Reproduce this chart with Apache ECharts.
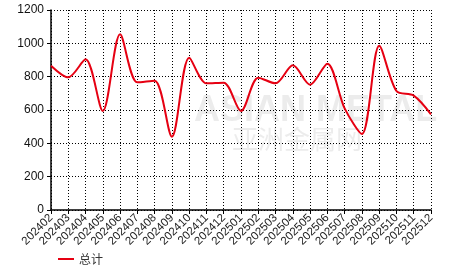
<!DOCTYPE html>
<html><head><meta charset="utf-8">
<script src="https://cdn.jsdelivr.net/npm/echarts@6/dist/echarts.min.js"></script>
<style>html,body{margin:0;padding:0;background:#fff}#c{width:466px;height:272px}</style>
</head><body><div id="c"></div>
<script>
var categories = ['202402','202403','202404','202405','202406','202407','202408','202409','202410','202411','202412','202501','202502','202503','202504','202505','202506','202507','202508','202509','202510','202511','202512'];
var totalValues = [866,796,904,594,1054,766,776,440,914,760,764,594,794,760,868,752,878,610,456,986,714,686,574];
var yTicks = [0,200,400,600,800,1000,1200];
var seriesName = '总计';

var chart = echarts.init(document.getElementById('c'));
chart.setOption({
  animation: false,
  backgroundColor: '#fff',
  grid: {left: 51, right: 35, top: 10, bottom: 62},
  graphic: [
    {type: 'text', left: 194, top: 93, z: 0, style: {text: 'ASIAN METAL', font: 'bold 36px "Liberation Sans", Arial, sans-serif', fill: 'rgba(200,200,200,0.35)'}},
    {type: 'text', left: 232, top: 126, z: 0, style: {text: '亚洲金属网', font: '26px "Noto Sans CJK SC", sans-serif', fill: 'rgba(200,200,200,0.35)'}}
  ],
  legend: {
    left: 53, top: 248, itemWidth: 16, itemHeight: 2, itemGap: 10,
    icon: 'rect',
    textStyle: {fontSize: 12, color: '#333', fontFamily: '"Noto Sans CJK SC", sans-serif'},
    data: [seriesName]
  },
  xAxis: {
    type: 'category', data: categories, boundaryGap: false,
    axisLine: {lineStyle: {color: '#000', width: 1.5}},
    axisTick: {show: true, length: 4, lineStyle: {color: '#000'}, alignWithLabel: true},
    axisLabel: {rotate: 45, interval: 0, fontSize: 11.5, color: '#222', fontFamily: '"Liberation Sans", Arial, sans-serif', margin: 6},
    splitLine: {show: true, lineStyle: {color: '#000', type: [1, 2], width: 1}}
  },
  yAxis: {
    type: 'value', min: 0, max: 1200, interval: 200,
    axisLine: {show: true, lineStyle: {color: '#000', width: 1.5}},
    axisTick: {show: true, length: 4, lineStyle: {color: '#000'}},
    axisLabel: {fontSize: 12, color: '#111', fontFamily: '"Liberation Sans", Arial, sans-serif', margin: 7,
      formatter: function(v){ return yTicks.indexOf(v) >= 0 ? String(v) : ''; }},
    splitLine: {show: true, lineStyle: {color: '#000', type: [1, 2], width: 1}}
  },
  series: [{
    name: seriesName, type: 'line', data: totalValues, smooth: 0.3,
    symbol: 'none', lineStyle: {color: '#e60012', width: 2}, itemStyle: {color: '#e60012'}, z: 5
  }]
});
</script></body></html>
